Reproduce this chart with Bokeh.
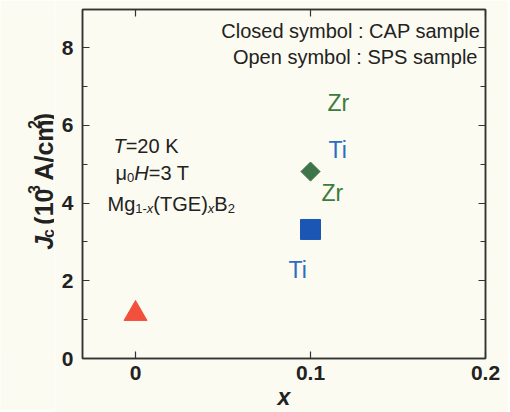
import numpy as np
from bokeh.plotting import figure
from bokeh.layouts import row
from bokeh.models import Range1d, LinearAxis, FixedTicker, Label, ColumnDataSource
from bokeh.embed import file_html
from bokeh.resources import INLINE
from bokeh.core.properties import value

# ---------------- data ----------------
x_vals = [0.0, 0.1, 0.1]          # x in Mg1-x(TGE)xB2
jc_vals = [1.15, 3.32, 4.81]      # Jc (10^3 A/cm^2)

x_ticks = [0, 0.1, 0.2]
x_tick_labels = ["0", "0.1", "0.2"]
y_ticks = [0, 2, 4, 6, 8]
y_minor = [1, 3, 5, 7]

lbl_text = ["Zr", "Ti", "Zr", "Ti"]
lbl_x = [0.1097, 0.1103, 0.1063, 0.0874]
lbl_y = [6.38, 5.17, 4.04, 2.08]
lbl_color = ["#3e7b3e", "#2b6cc4", "#3e7b3e", "#2b6cc4"]

# ---------------- layout ----------------
BG = "#fcfbf1"
FONT = "Liberation Sans"
X0, X1 = -0.0303, 0.2
Y0, Y1 = 0.0, 8.98
FW, FH = 403, 349
KX = FW / (X1 - X0)
KY = FH / (Y1 - Y0)
TW, TH = 54, 410   # strip holding the y-axis title
LIFT = 8 / KY      # baseline correction for horizontal texts (px -> data)

p = figure(frame_width=FW, frame_height=FH,
           x_range=Range1d(X0, X1), y_range=Range1d(Y0, Y1),
           output_backend="svg", toolbar_location=None,
           min_border_left=82 - TW, min_border_right=23,
           min_border_top=9, min_border_bottom=52,
           background_fill_color=BG, border_fill_color=BG)
p.xgrid.visible = False
p.ygrid.visible = False
p.outline_line_color = "#333333"
p.outline_line_width = 1.5

def style_axis(ax, show_labels):
    ax.axis_line_color = "#333333"
    ax.axis_line_width = 1.5
    ax.major_tick_in = 7
    ax.major_tick_out = 0
    ax.minor_tick_in = 5
    ax.minor_tick_out = 0
    ax.major_tick_line_color = "#333333"
    ax.minor_tick_line_color = "#333333"
    ax.major_tick_line_width = 1.2
    ax.minor_tick_line_width = 1.2
    if show_labels:
        ax.major_label_text_font = FONT
        ax.major_label_text_font_size = "21px"
        ax.major_label_text_font_style = "bold"
        ax.major_label_text_color = "#222222"
    else:
        ax.major_label_text_font_size = "1px"
        ax.major_label_text_alpha = 0
        ax.major_label_standoff = 0

p.xaxis.ticker = FixedTicker(ticks=x_ticks, minor_ticks=[])
p.yaxis.ticker = FixedTicker(ticks=y_ticks, minor_ticks=y_minor)
p.xaxis.major_label_overrides = {t: s for t, s in zip(x_ticks, x_tick_labels)}
style_axis(p.xaxis[0], True)
style_axis(p.yaxis[0], True)
p.xaxis.major_label_standoff = 7
p.yaxis.major_label_standoff = 9
p.xaxis.axis_label = "x"
p.xaxis.axis_label_text_font = FONT
p.xaxis.axis_label_text_font_size = "23px"
p.xaxis.axis_label_text_font_style = "bold italic"
p.xaxis.axis_label_text_color = "#222222"
p.xaxis.axis_label_standoff = 1

top = LinearAxis(ticker=FixedTicker(ticks=x_ticks, minor_ticks=[]))
style_axis(top, False)
p.add_layout(top, "above")
right = LinearAxis(ticker=FixedTicker(ticks=y_ticks, minor_ticks=y_minor))
style_axis(right, False)
p.add_layout(right, "right")

# ---------------- markers ----------------
p.scatter(x=[x_vals[0]], y=[jc_vals[0]], marker="triangle", size=23,
          fill_color="#f2503d", line_color="#f2503d")
p.scatter(x=[x_vals[1]], y=[jc_vals[1]], marker="square", size=20,
          fill_color="#1c56b4", line_color="#1c56b4")
p.scatter(x=[x_vals[2]], y=[jc_vals[2]], marker="square", size=13.5, angle=np.pi / 4,
          fill_color="#3d7448", line_color="#3d7448")

# ---------------- element labels ----------------
src = ColumnDataSource(dict(x=lbl_x, y=[v + LIFT for v in lbl_y], t=lbl_text, c=lbl_color))
p.text(x="x", y="y", text="t", text_color="c", source=src,
       text_font=value(FONT), text_font_size="23px",
       text_align="left", text_baseline="alphabetic")

# ---------------- text helpers ----------------
REG = {' ': 278, '(': 333, ')': 333, '-': 333, '=': 584, ':': 278, '/': 278, '.': 278,
       'A': 667, 'B': 667, 'C': 722, 'E': 667, 'G': 778, 'H': 722, 'K': 667, 'M': 833,
       'P': 667, 'S': 667, 'T': 611, 'a': 556, 'b': 556, 'c': 500, 'd': 556, 'e': 556,
       'g': 556, 'l': 222, 'm': 833, 'o': 556, 'p': 556, 'r': 333, 's': 500, 'x': 500,
       'y': 500, 'μ': 576}
BOLD = {' ': 278, '(': 333, ')': 333, 'A': 722, 'J': 556, 'c': 556, 'm': 889, '/': 278}

def tw(s, size, bold):
    tab = BOLD if bold else REG
    return sum(tab.get(ch, 556) for ch in s) / 1000.0 * size

def add_label(x, y, text, size, style="normal", align="left", color="#222222"):
    p.add_layout(Label(x=x, y=y + LIFT, text=text, text_font=FONT, text_font_size=f"{size}px",
                       text_font_style=style, text_align=align, text_baseline="alphabetic",
                       text_color=color))

def hrow(x, y, pieces):
    # pieces: (text, size, style, baseline shift in px (down positive), gap before in px)
    off = 0.0
    for text, size, style, shift, gap in pieces:
        off += gap
        add_label(x + off / KX, y - shift / KY, text, size, style)
        off += tw(text, size, "bold" in style)

# legend-like notes
add_label(0.197, 8.21, "Closed symbol : CAP sample", 20, align="right")
add_label(0.1954, 7.54, "Open symbol : SPS sample", 20, align="right")

# conditions
hrow(-0.0126, 5.27, [("T", 20, "italic", 0, 0), ("=20 K", 20, "normal", 0, 0)])
hrow(-0.0114, 4.58, [("μ", 20, "normal", 0, 0), ("0", 13, "normal", 5, 0),
                     ("H", 20, "italic", 0, 0), ("=3 T", 20, "normal", 0, 0)])
hrow(-0.016, 3.78, [("Mg", 20, "normal", 0, 0), ("1-", 13, "normal", 5, 0),
                    ("x", 13, "italic", 5, 0), ("(TGE)", 20, "normal", 0, 0),
                    ("x", 13, "italic", 5, 0), ("B", 20, "normal", 0, 0),
                    ("2", 13, "normal", 5, 0)])

# ---------------- y-axis title strip ----------------
t = figure(width=TW, height=TH, x_range=Range1d(0, TW), y_range=Range1d(0, TH),
           x_axis_type=None, y_axis_type=None, output_backend="svg",
           toolbar_location=None, min_border=0,
           background_fill_color=BG, border_fill_color=BG, outline_line_color=None)
t.xgrid.visible = False
t.ygrid.visible = False

# (text, size, style, shift toward right in px, gap before in px)
title_pieces = [("J", 25, "bold italic", 0, 0), ("c", 16, "bold", 5, 0),
                ("(10", 25, "bold", 0, 7), ("3", 16, "bold", -10, 0),
                ("A/cm", 25, "bold", 0, 7), ("2", 16, "bold", -10, 0),
                (")", 25, "bold", 0, 0)]
base_x, start_y = 43, TH - 284
off = 0.0
for text, size, style, shift, gap in title_pieces:
    off += gap
    t.text(x=[base_x + shift], y=[start_y + off], text=[text], angle=np.pi / 2,
           text_font=value(FONT), text_font_size=f"{size}px", text_font_style=style,
           text_color="#222222", text_align="left", text_baseline="alphabetic")
    off += tw(text, size, True)

open("out.html", "w").write(file_html(row(t, p), INLINE))
